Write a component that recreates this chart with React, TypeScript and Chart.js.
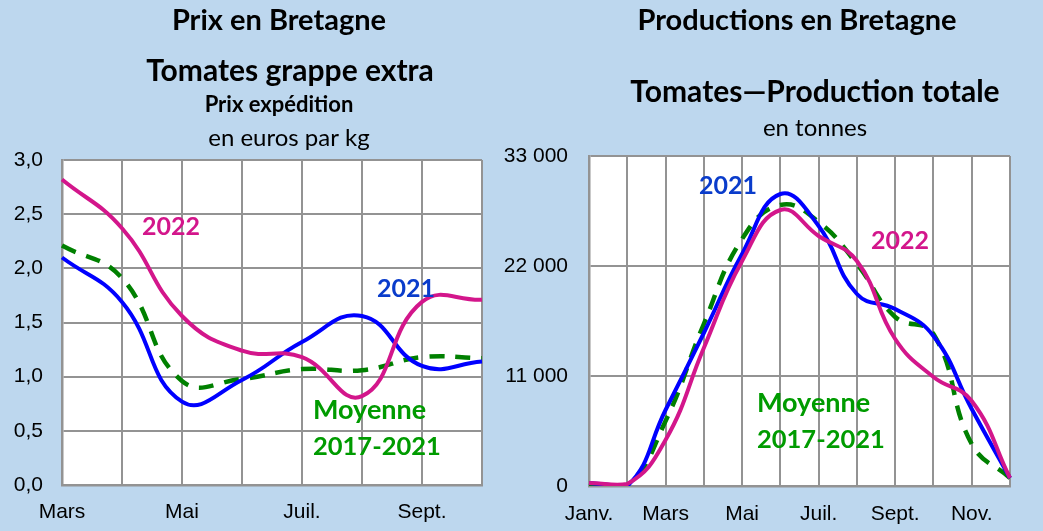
import { useEffect, useRef } from 'react';
import { Chart, registerables } from 'chart.js';

Chart.register(...registerables);

// ---------- Data: left chart (prix) ----------
const prixMonths = ['Mars', 'Avr.', 'Mai', 'Juin', 'Juil.', 'Août', 'Sept.', 'Oct.'];
const prix2021 = [2.1, 1.69, 0.77, 0.97, 1.32, 1.56, 1.1, 1.14];
const prix2022 = [2.82, 2.37, 1.56, 1.24, 1.18, 0.82, 1.69, 1.71];
const prixMoyenne = [2.21, 1.91, 0.96, 0.98, 1.07, 1.06, 1.18, 1.17];

// ---------- Data: right chart (production, tonnes) ----------
const prodMonths = ['Janv.', 'Févr.', 'Mars', 'Avr.', 'Mai', 'Juin', 'Juil.', 'Août', 'Sept.', 'Oct.', 'Nov.', 'Déc.'];
const prod2021 = [300, 0, 7600, 15300, 23200, 29200, 26000, 19200, 17700, 15000, 7700, 800];
const prod2022 = [300, 200, 4600, 13800, 22500, 27600, 25000, 22500, 14700, 10900, 8500, 800];
const prodMoyenne = [200, 100, 6500, 16200, 24700, 28100, 26400, 22200, 16900, 15200, 4200, 800];

const BLUE = '#0000FF';
const MAGENTA = '#D3168B';
const GREEN = '#008000';
const BLUE_TEXT = '#0A3CCB';
const GREEN_TEXT = '#009B00';
const GRID = '#939393';
const BG = '#BDD7EE';

type TextItem = { text: string; x: number; y: number; font: string; color: string; align: CanvasTextAlign };

function textPlugin(items: TextItem[]) {
  return {
    id: 'texts',
    afterDraw(chart: any) {
      const ctx = chart.ctx;
      ctx.save();
      ctx.textBaseline = 'alphabetic';
      for (const t of items) {
        ctx.font = t.font;
        ctx.fillStyle = t.color;
        ctx.textAlign = t.align;
        ctx.fillText(t.text, t.x, t.y);
      }
      ctx.restore();
    },
  };
}

const plotBg = {
  id: 'plotBg',
  beforeDraw(chart: any) {
    const { ctx, chartArea: a } = chart;
    ctx.save();
    ctx.fillStyle = '#FFFFFF';
    ctx.fillRect(a.left, a.top, a.right - a.left, a.bottom - a.top);
    ctx.restore();
  },
};

const TICK_FONT = { family: '"Liberation Sans", Arial, sans-serif', size: 21 };
const B = 'Lato, "Noto Sans", sans-serif';

function lineDs(label: string, data: number[], color: string, order: number, dashed = false) {
  return {
    label,
    data,
    borderColor: color,
    backgroundColor: color,
    borderWidth: dashed ? 4.5 : 4,
    borderDash: dashed ? [15, 11] : [],
    pointRadius: 0,
    tension: 0.45,
    fill: false,
    order,
  };
}

function makeConfig(p: {
  labels: string[];
  d2021: number[];
  d2022: number[];
  dMoy: number[];
  min: number;
  max: number;
  step: number;
  fmt: (v: number) => string;
  padding: any;
  yWidth: number;
  yPad: number;
  xPad: number;
  xHeight: number;
  texts: TextItem[];
}): any {
  return {
    type: 'line',
    data: {
      labels: p.labels,
      datasets: [
        lineDs('2022', p.d2022, MAGENTA, 0),
        lineDs('2021', p.d2021, BLUE, 1),
        lineDs('Moyenne 2017-2021', p.dMoy, GREEN, 2, true),
      ],
    },
    options: {
      responsive: false,
      animation: false,
      devicePixelRatio: 1,
      layout: { padding: p.padding },
      plugins: { legend: { display: false }, tooltip: { enabled: false }, title: { display: false } },
      scales: {
        x: {
          type: 'category',
          offset: false,
          grid: { color: GRID, lineWidth: 2, drawTicks: false, offset: false },
          border: { color: GRID, width: 2.5 },
          ticks: {
            autoSkip: false,
            maxRotation: 0,
            minRotation: 0,
            padding: p.xPad,
            color: '#000',
            font: TICK_FONT,
            callback: (_v: any, i: number) => (i % 2 === 0 ? p.labels[i] : ''),
          },
          afterFit: (s: any) => {
            s.height = p.xHeight;
          },
        },
        y: {
          min: p.min,
          max: p.max,
          grid: { color: GRID, lineWidth: 2, drawTicks: false },
          border: { color: GRID, width: 2.5 },
          ticks: {
            stepSize: p.step,
            padding: p.yPad,
            color: '#000',
            font: TICK_FONT,
            callback: (v: any) => p.fmt(Number(v)),
          },
          afterFit: (s: any) => {
            s.width = p.yWidth;
          },
        },
      },
    },
    plugins: [plotBg, textPlugin(p.texts)],
  };
}

const LEFT_W = 497;
const RIGHT_X = 497;
const RIGHT_W = 1043 - RIGHT_X;
const H = 531;

export default function App() {
  const leftRef = useRef<HTMLCanvasElement>(null);
  const rightRef = useRef<HTMLCanvasElement>(null);

  useEffect(() => {
    const fmtPrix = (v: number) => v.toFixed(1).replace('.', ',');
    const fmtProd = (v: number) => String(Math.round(v)).replace(/\B(?=(\d{3})+(?!\d))/g, ' ');

    const leftTexts: TextItem[] = [
      { text: 'Prix en Bretagne', x: 279, y: 30, font: `bold 29px ${B}`, color: '#000', align: 'center' },
      { text: 'Tomates grappe extra', x: 290, y: 81, font: `bold 30px ${B}`, color: '#000', align: 'center' },
      { text: 'Prix expédition', x: 279, y: 112, font: `bold 22px ${B}`, color: '#000', align: 'center' },
      { text: 'en euros par kg', x: 289, y: 146, font: `24px ${B}`, color: '#000', align: 'center' },
      { text: '2022', x: 142, y: 235, font: `bold 25px ${B}`, color: MAGENTA, align: 'left' },
      { text: '2021', x: 377, y: 297, font: `bold 25px ${B}`, color: BLUE_TEXT, align: 'left' },
      { text: 'Moyenne', x: 313, y: 419, font: `bold 27px ${B}`, color: GREEN_TEXT, align: 'left' },
      { text: '2017-2021', x: 313, y: 455, font: `bold 25.5px ${B}`, color: GREEN_TEXT, align: 'left' },
    ];
    const ox = RIGHT_X;
    const rightTexts: TextItem[] = [
      { text: 'Productions en Bretagne', x: 797 - ox, y: 30, font: `bold 29px ${B}`, color: '#000', align: 'center' },
      { text: 'Tomates—Production totale', x: 815 - ox, y: 102, font: `bold 30px ${B}`, color: '#000', align: 'center' },
      { text: 'en tonnes', x: 815 - ox, y: 136, font: `24px ${B}`, color: '#000', align: 'center' },
      { text: '2021', x: 699 - ox, y: 194, font: `bold 25px ${B}`, color: BLUE_TEXT, align: 'left' },
      { text: '2022', x: 871 - ox, y: 249, font: `bold 25px ${B}`, color: MAGENTA, align: 'left' },
      { text: 'Moyenne', x: 757 - ox, y: 412, font: `bold 27px ${B}`, color: GREEN_TEXT, align: 'left' },
      { text: '2017-2021', x: 757 - ox, y: 448, font: `bold 25.5px ${B}`, color: GREEN_TEXT, align: 'left' },
    ];

    const left = new Chart(
      leftRef.current as HTMLCanvasElement,
      makeConfig({
        labels: prixMonths,
        d2021: prix2021,
        d2022: prix2022,
        dMoy: prixMoyenne,
        min: 0,
        max: 3,
        step: 0.5,
        fmt: fmtPrix,
        padding: { top: 160, right: 2, bottom: 0, left: 0 },
        yWidth: 62,
        yPad: 19,
        xPad: 15,
        xHeight: 46,
        texts: leftTexts,
      })
    );
    const right = new Chart(
      rightRef.current as HTMLCanvasElement,
      makeConfig({
        labels: prodMonths,
        d2021: prod2021,
        d2022: prod2022,
        dMoy: prodMoyenne,
        min: 0,
        max: 33000,
        step: 11000,
        fmt: fmtProd,
        padding: { top: 156, right: RIGHT_W - (1010 - RIGHT_X), bottom: 0, left: 0 },
        yWidth: 589 - RIGHT_X,
        yPad: 21,
        xPad: 16,
        xHeight: H - 486,
        texts: rightTexts,
      })
    );
    let alive = true;
    (document as any).fonts?.ready?.then(() => {
      if (alive) {
        left.update();
        right.update();
      }
    });
    return () => {
      alive = false;
      left.destroy();
      right.destroy();
    };
  }, []);

  return (
    <div style={{ position: 'fixed', left: 0, top: 0, width: 1043, height: H, background: BG, overflow: 'hidden' }}>
      <canvas ref={leftRef} width={LEFT_W} height={H} style={{ position: 'absolute', left: 0, top: 0, width: LEFT_W, height: H }} />
      <canvas ref={rightRef} width={RIGHT_W} height={H} style={{ position: 'absolute', left: RIGHT_X, top: 0, width: RIGHT_W, height: H }} />
    </div>
  );
}
